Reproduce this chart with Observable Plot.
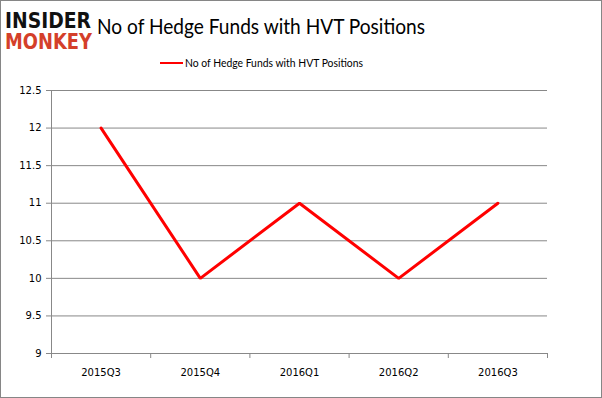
<!DOCTYPE html>
<html><head><meta charset="utf-8">
<script src="https://cdn.jsdelivr.net/npm/d3@7"></script>
<script src="https://cdn.jsdelivr.net/npm/@observablehq/plot@0.6"></script>
<style>
html,body{margin:0;padding:0;background:#fff;}
#wrap{position:relative;width:602px;height:398px;overflow:hidden;}
#border{position:absolute;left:0;top:0;width:602px;height:398px;box-sizing:border-box;border:1px solid #868686;pointer-events:none;}
#overlay{position:absolute;left:0;top:0;}
</style></head>
<body>
<div id="wrap">
  <div id="chart"></div>
  <svg id="overlay" width="602" height="80"></svg>
  <div id="border"></div>
</div>
<script>
const categories = ["2015Q3","2015Q4","2016Q1","2016Q2","2016Q3"];
const values = [12, 10, 11, 10, 11];
const yTicks = [9, 9.5, 10, 10.5, 11, 11.5, 12, 12.5];
const seriesName = "No of Hedge Funds with HVT Positions";
const titleText = "No of Hedge Funds with HVT Positions";

const data = categories.map((c, i) => ({pos: i + 0.5, cat: c, value: values[i]}));
const bounds = d3.range(categories.length + 1);
const centers = categories.map((c, i) => i + 0.5);

const chart = Plot.plot({
  width: 602,
  height: 398,
  marginTop: 90,
  marginBottom: 45,
  marginLeft: 51,
  marginRight: 55,
  style: {fontFamily: "DejaVu Sans, sans-serif", fontSize: "10px", color: "#000", background: "transparent"},
  x: {type: "linear", domain: [0, categories.length]},
  y: {domain: [9, 12.5]},
  marks: [
    Plot.ruleY(yTicks.filter(v => v > 9), {stroke: "#888", strokeWidth: 1, strokeOpacity: 1}),
    Plot.axisY({ticks: yTicks, tickSize: 5, tickPadding: 5, tickFormat: d => String(d), stroke: "#888", strokeOpacity: 1, label: null}),
    Plot.ruleX([0], {stroke: "#888"}),
    Plot.ruleY([9], {stroke: "#888"}),
    Plot.axisX({ticks: bounds, tickSize: 5, tickFormat: () => "", stroke: "#888", strokeOpacity: 1, label: null}),
    Plot.axisX({ticks: centers, tickSize: 0, tickPadding: 15, tickFormat: d => categories[Math.round(d - 0.5)], label: null}),
    Plot.line(data, {x: "pos", y: "value", stroke: "#ff0000", strokeWidth: 3, strokeLinejoin: "miter"})
  ]
});
document.getElementById("chart").appendChild(chart);

const ov = d3.select("#overlay");
// logo
ov.append("text").attr("x", 5).attr("y", 28).attr("textLength", 86).attr("lengthAdjust", "spacingAndGlyphs")
  .attr("font-family", "DejaVu Sans").attr("font-weight", "bold").attr("font-size", 22).attr("fill", "#111").text("INSIDER");
ov.append("text").attr("x", 5).attr("y", 49).attr("textLength", 87).attr("lengthAdjust", "spacingAndGlyphs")
  .attr("font-family", "DejaVu Sans").attr("font-weight", "bold").attr("font-size", 22).attr("fill", "#d43f2a").text("MONKEY");
// title
ov.append("text").attr("x", 97).attr("y", 34).attr("textLength", 328).attr("lengthAdjust", "spacingAndGlyphs")
  .attr("font-family", "Lato, sans-serif").attr("font-size", 21).attr("fill", "#000").text(titleText);
// legend
ov.append("line").attr("x1", 160).attr("x2", 183).attr("y1", 63).attr("y2", 63)
  .attr("stroke", "#ff0000").attr("stroke-width", 2);
ov.append("text").attr("x", 185).attr("y", 67).attr("textLength", 178).attr("lengthAdjust", "spacingAndGlyphs")
  .attr("font-family", "Lato, sans-serif").attr("font-size", 11).attr("fill", "#000").text(seriesName);
</script>
</body></html>
